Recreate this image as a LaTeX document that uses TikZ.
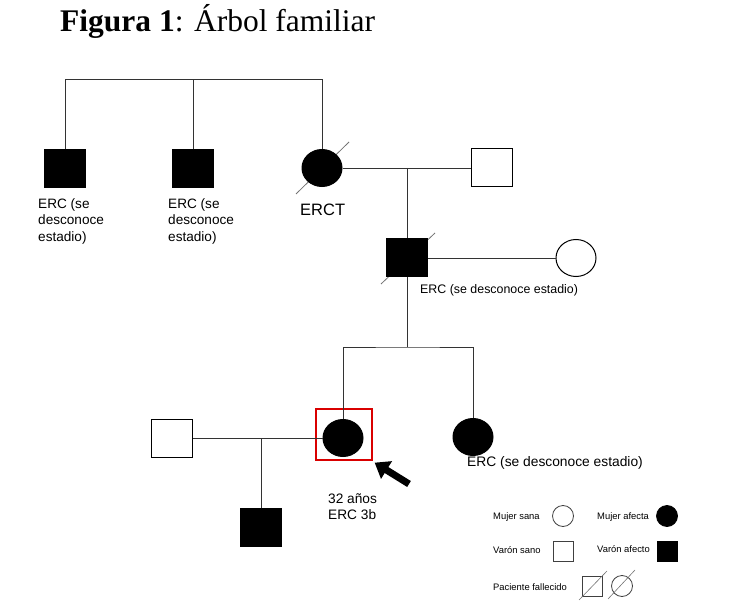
\documentclass[tikz,border=0pt]{standalone}
\usepackage{fontspec}
\setmainfont{Liberation Serif}
\setsansfont{Liberation Sans}
\usepackage{tikz}
\usetikzlibrary{shapes.geometric,arrows.meta,calc,backgrounds}

\tikzset{
  varon/.style={draw, rectangle, minimum width=41pt, minimum height=38pt, inner sep=0pt, line width=1pt},
  mujer/.style={draw, ellipse, minimum width=40pt, minimum height=37pt, inner sep=0pt, line width=1pt},
  afecto/.style={fill=black},
  lazo/.style={line width=0.9pt, black!80},
  tachado/.style={line width=0.8pt, black!55},
  etiqueta/.style={font=\sffamily\fontsize{13.6}{16.5}\selectfont, align=left, inner sep=0pt},
  leyenda/.style={font=\sffamily\fontsize{9.4}{11}\selectfont, anchor=west, inner sep=0pt},
  lvaron/.style={draw, rectangle, minimum size=20pt, inner sep=0pt, line width=0.8pt, black!75},
  lmujer/.style={draw, circle, minimum size=21pt, inner sep=0pt, line width=0.8pt, black!75}
}

\begin{document}
\begin{tikzpicture}[x=1pt, y=-1pt]
\useasboundingbox (0,0) rectangle (744,612);

% Title
\node[anchor=base west, inner sep=0pt, font=\fontsize{31.5}{34}\selectfont] (titulo) at (60,32)
  {\textbf{Figura 1}: Árbol familiar};

% Generation I
\node[varon, afecto] (tio1) at (65,169) {};
\node[varon, afecto] (tio2) at (193,169) {};
\node[mujer, afecto] (abuela) at (322,168) {};
\node[varon] (abuelo) at (492,168) {};
\coordinate (sibs1) at (322,79);
\draw[lazo] (tio1.north) |- (sibs1) -- (abuela.north);
\draw[lazo] (tio2.north) -- (tio2.north |- sibs1);
\draw[lazo] (abuela.east) -- (abuelo.west);
\begin{scope}[on background layer]
\draw[tachado] ($(abuela.center)+(-26,26)$) -- ($(abuela.center)+(27,-26)$);
\end{scope}

\node[etiqueta, anchor=north west] (et1) at (38,198) {ERC (se\\desconoce\\estadio)};
\node[etiqueta, anchor=north west] (et2) at (168,198) {ERC (se\\desconoce\\estadio)};
\node[anchor=north west, inner sep=0pt, font=\sffamily\fontsize{16.5}{18}\selectfont] (et3) at (300,204) {ERCT};

% Generation II
\node[varon, afecto] (padre) at (407,258) {};
\node[mujer] (madre) at (576,258) {};
\coordinate (m1) at (407,168);
\draw[lazo] (m1) -- (padre.north);
\draw[lazo] (padre.east) -- (madre.west);
\begin{scope}[on background layer]
\draw[tachado] ($(padre.center)+(-26,26)$) -- ($(padre.center)+(28,-25)$);
\end{scope}
\node[etiqueta, anchor=west, font=\sffamily\fontsize{12.4}{14}\selectfont] (et4) at (420,290) {ERC (se desconoce estadio)};

% Generation III
\node[mujer, afecto] (probando) at (343,438) {};
\node[mujer, afecto] (hermana) at (473,437) {};
\node[varon] (esposo) at (172,438) {};
\node[draw=red!85!black, line width=1.3pt, minimum width=56pt, minimum height=51pt, inner sep=0pt] (marco) at (344,434.5) {};
\coordinate (sibs2) at (407,347);
\draw[lazo] (padre.south) -- (sibs2);
\draw[lazo] (probando.north) |- (sibs2) -| (hermana.north);
\draw[lazo] (esposo.east) -- (probando.west);
\node[etiqueta, anchor=west, font=\sffamily\fontsize{13.8}{16}\selectfont] (et5) at (467,463) {ERC (se desconoce estadio)};

% Proband arrow
\coordinate (cola) at (409,484);
\draw[line width=7pt, -{Triangle[length=14pt, width=20pt]}] (cola) -- ([shift={(2,2)}]marco.south east);
\node[etiqueta, anchor=north west, font=\sffamily\fontsize{13.7}{16}\selectfont] (et6) at (328,493) {32 años\\ERC 3b};

% Generation IV
\node[varon, afecto] (nieto) at (261,527) {};
\coordinate (m2) at (261,438);
\draw[lazo] (m2) -- (nieto.north);

% Legend
\node[leyenda] (l1) at (493,517) {Mujer sana};
\node[lmujer] (s1) at (563,516) {};
\node[leyenda] (l2) at (597,517) {Mujer afecta};
\node[lmujer, fill=black, draw=black] (s2) at (667,516) {};
\node[leyenda] (l3) at (493,550) {Varón sano};
\node[lvaron] (s3) at (563,551) {};
\node[leyenda] (l4) at (597,549) {Varón afecto};
\node[lvaron, fill=black, draw=black] (s4) at (667,551) {};
\node[leyenda] (l5) at (493,587) {Paciente fallecido};
\node[lvaron] (s5) at (592,586) {};
\node[lmujer] (s6) at (622,586) {};
\draw[tachado, line width=0.6pt] ($(s5.center)+(-13,14)$) -- ($(s5.center)+(15,-15)$);
\draw[tachado, line width=0.6pt] ($(s6.center)+(-14,13)$) -- ($(s6.center)+(13,-16)$);

\end{tikzpicture}
\end{document}
